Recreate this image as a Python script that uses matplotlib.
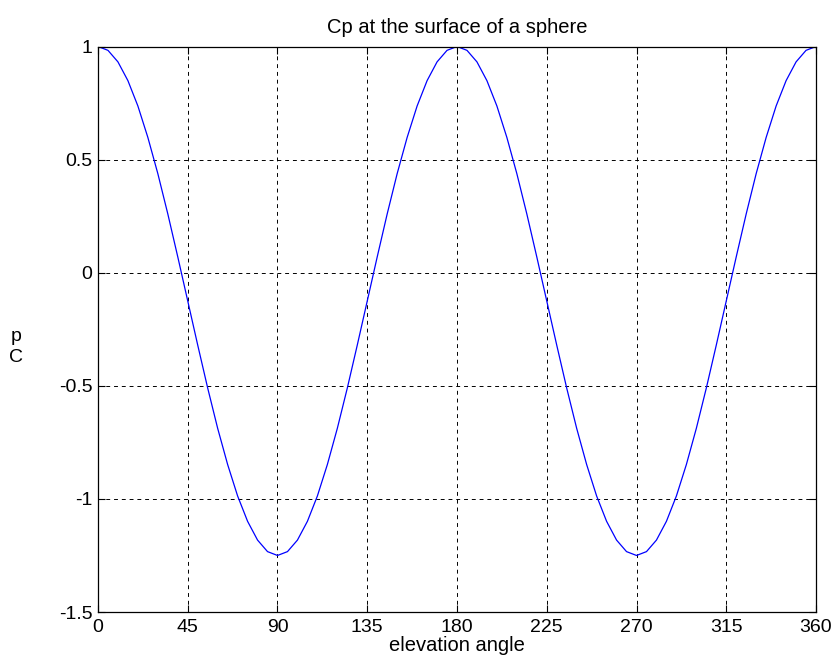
import numpy as np
import matplotlib.pyplot as plt

plt.rcParams['font.family'] = ['Liberation Sans', 'DejaVu Sans']

# elevation angle (deg) and Cp, every 5 deg
angle = list(range(0, 365, 5))
cp = [1.000, 0.983, 0.932, 0.849, 0.737, 0.598, 0.438, 0.260, 0.070,
      -0.125, -0.320, -0.510, -0.688, -0.848, -0.987, -1.099, -1.182, -1.233,
      -1.250,
      -1.233, -1.182, -1.099, -0.987, -0.848, -0.688, -0.510, -0.320, -0.125,
      0.070, 0.260, 0.438, 0.598, 0.737, 0.849, 0.932, 0.983,
      1.000,
      0.983, 0.932, 0.849, 0.737, 0.598, 0.438, 0.260, 0.070,
      -0.125, -0.320, -0.510, -0.688, -0.848, -0.987, -1.099, -1.182, -1.233,
      -1.250,
      -1.233, -1.182, -1.099, -0.987, -0.848, -0.688, -0.510, -0.320, -0.125,
      0.070, 0.260, 0.438, 0.598, 0.737, 0.849, 0.932, 0.983,
      1.000]

xticks = [0, 45, 90, 135, 180, 225, 270, 315, 360]
yticks = [-1.5, -1, -0.5, 0, 0.5, 1]
ytick_labels = ['-1.5', '-1', '-0.5', '0', '0.5', '1']

fig = plt.figure(figsize=(8.39, 6.71), dpi=100)
ax = fig.add_axes([0.1168, 0.0879, 0.8558, 0.8428])

ax.plot(angle, cp, color='#0000ff', linewidth=0.9)

ax.set_xlim(0, 360)
ax.set_ylim(-1.5, 1)
ax.set_xticks(xticks)
ax.set_yticks(yticks)
ax.set_yticklabels(ytick_labels)
ax.tick_params(direction='in', top=True, right=True, labelsize=14, length=5)
ax.tick_params(axis='x', pad=5)
ax.tick_params(axis='y', pad=4)
ax.grid(True, color='black', linestyle=(0, (4, 4)), linewidth=0.7)
for s in ax.spines.values():
    s.set_linewidth(0.9)

ax.set_title('Cp at the surface of a sphere', fontsize=14.5, pad=10)
ax.set_xlabel('elevation angle', fontsize=14.5, labelpad=0)

# the odd-looking y label, as in the original
fig.text(16 / 839, 1 - 341 / 671, 'p', fontsize=14, ha='center', va='baseline')
fig.text(16 / 839, 1 - 362 / 671, 'C', fontsize=14, ha='center', va='baseline')

fig.savefig('out.png', dpi=100)
